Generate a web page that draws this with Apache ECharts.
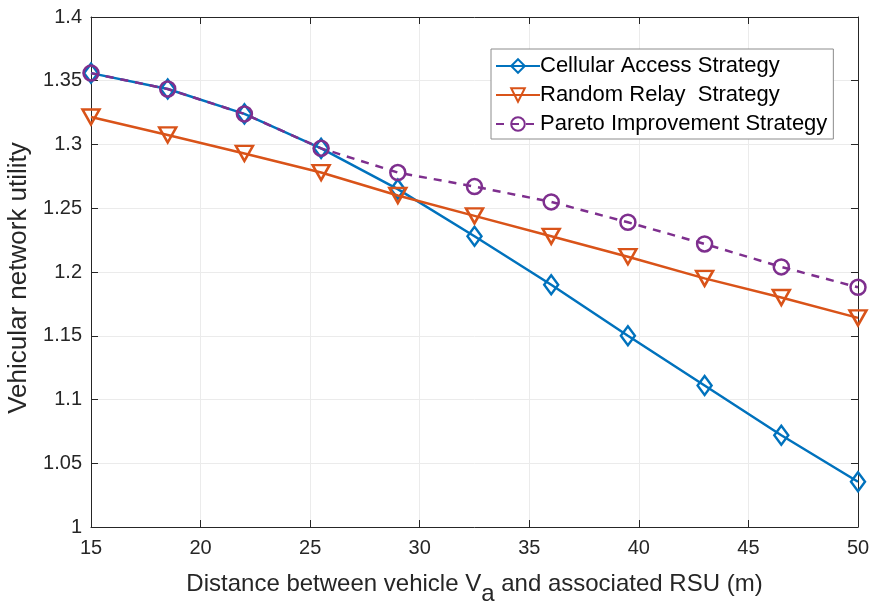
<!DOCTYPE html>
<html><head><meta charset="utf-8">
<script src="https://cdn.jsdelivr.net/npm/echarts@6/dist/echarts.min.js"></script>
<style>html,body{margin:0;padding:0;background:#fff;overflow:hidden}#c{width:873px;height:601px}</style>
</head><body><div id="c"></div>
<script>
const distances = [15, 18.5, 22, 25.5, 29, 32.5, 36, 39.5, 43, 46.5, 50];
const cellular = [1.356, 1.3435, 1.324, 1.297, 1.265, 1.228, 1.19, 1.15, 1.111, 1.072, 1.0355];
const randomRelay = [1.3216, 1.3075, 1.293, 1.278, 1.26, 1.244, 1.228, 1.212, 1.195, 1.18, 1.164];
const pareto = [1.356, 1.3435, 1.324, 1.297, 1.278, 1.267, 1.255, 1.239, 1.222, 1.204, 1.188];
const seriesNames = ['Cellular Access Strategy', 'Random Relay  Strategy', 'Pareto Improvement Strategy'];
const xTicks = [15, 20, 25, 30, 35, 40, 45, 50];
const yTicks = [1, 1.05, 1.1, 1.15, 1.2, 1.25, 1.3, 1.35, 1.4];

const FONT = 'Liberation Sans, Arial, Helvetica, sans-serif';
const AX = '#262626';
const pair = arr => distances.map((d, i) => [d, arr[i]]);

const chart = echarts.init(document.getElementById('c'), null, {renderer: 'canvas', width: 873, height: 601});
const axisCommon = {
  axisLine: {show: true, lineStyle: {color: AX, width: 1}},
  axisTick: {show: true, inside: true, length: 7, lineStyle: {color: AX}},
};
chart.setOption({
  animation: false,
  backgroundColor: '#fff',
  grid: {left: 91, top: 17, width: 767, height: 510, containLabel: false, outerBoundsMode: 'none'},
  legend: {
    orient: 'vertical', left: 491, top: 49,
    padding: [6, 6, 4, 4],
    itemWidth: 44, itemHeight: 17, itemGap: 7,
    borderColor: '#8c8c8c', borderWidth: 1, backgroundColor: '#fff',
    textStyle: {fontFamily: FONT, fontSize: 22, lineHeight: 22, color: '#000', padding: [0, 0, 0, -5]},
    data: seriesNames
  },
  xAxis: [
    Object.assign({
      type: 'value', min: 15, max: 50, interval: 5, position: 'bottom',
      name: 'Distance between vehicle V{sub|a} and associated RSU (m)',
      nameLocation: 'middle', nameGap: 35,
      nameTextStyle: {fontFamily: FONT, fontSize: 24, color: '#262626',
        rich: {sub: {fontFamily: FONT, fontSize: 24, color: '#262626', verticalAlign: 'bottom', padding: [20, 0, 0, 0]}}},
      axisLabel: {fontFamily: FONT, fontSize: 20, color: '#262626', margin: 11,
        formatter: v => xTicks.includes(v) ? String(v) : ''},
      splitLine: {show: true, lineStyle: {color: '#ebebeb', width: 1}}
    }, axisCommon),
    Object.assign({
      type: 'value', min: 15, max: 50, interval: 5, position: 'top',
      axisLabel: {show: false}, splitLine: {show: false}
    }, axisCommon)
  ],
  yAxis: [
    Object.assign({
      type: 'value', min: 1, max: 1.4, interval: 0.05, position: 'left',
      name: 'Vehicular network utility', nameLocation: 'middle', nameGap: 51, nameRotate: 90,
      nameTextStyle: {fontFamily: FONT, fontSize: 26, color: '#262626', padding: [0, 12, 0, 0]},
      axisLabel: {fontFamily: FONT, fontSize: 20, color: '#262626', margin: 9,
        formatter: v => { const t = yTicks.find(y => Math.abs(y - v) < 1e-6); return t === undefined ? '' : String(t); }},
      splitLine: {show: true, lineStyle: {color: '#ebebeb', width: 1}}
    }, axisCommon),
    Object.assign({
      type: 'value', min: 1, max: 1.4, interval: 0.05, position: 'right',
      axisLabel: {show: false}, splitLine: {show: false}
    }, axisCommon)
  ],
  series: [
    {
      name: seriesNames[0], type: 'line', data: pair(cellular), z: 3,
      symbol: 'diamond', symbolSize: [14, 19],
      lineStyle: {color: '#0072BD', width: 2.5},
      itemStyle: {color: 'rgba(255,255,255,0)', borderColor: '#0072BD', borderWidth: 2.5}
    },
    {
      name: seriesNames[1], type: 'line', data: pair(randomRelay), z: 4,
      symbol: 'triangle', symbolRotate: 180, symbolSize: [17, 15],
      lineStyle: {color: '#D95319', width: 2.5},
      itemStyle: {color: 'rgba(255,255,255,0)', borderColor: '#D95319', borderWidth: 2.5}
    },
    {
      name: seriesNames[2], type: 'line', data: pair(pareto), z: 5,
      symbol: 'circle', symbolSize: 15,
      lineStyle: {color: '#7E2F8E', width: 2.5, type: [8, 7]},
      itemStyle: {color: 'rgba(255,255,255,0)', borderColor: '#7E2F8E', borderWidth: 2.5}
    }
  ]
});
</script></body></html>
